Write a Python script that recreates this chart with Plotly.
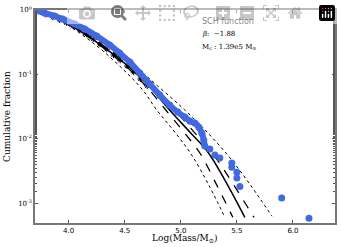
import plotly.graph_objects as go

# Observed cumulative distribution (blue)
obs_logm = [3.70, 3.786, 3.875, 3.946, 4.054, 4.143, 4.25, 4.366, 4.455, 4.545, 4.634,
            4.723, 4.812, 4.90, 4.973, 5.036, 5.08, 5.125, 5.161, 5.188, 5.205, 5.214]
obs_frac = [1.0, 0.898, 0.807, 0.724, 0.605, 0.507, 0.394, 0.286, 0.214, 0.155, 0.105,
            0.0708, 0.0478, 0.0333, 0.0259, 0.0217, 0.0188, 0.0175, 0.0151, 0.0122, 0.0095, 0.0077]
tail_logm = [5.259, 5.304, 5.348, 5.455, 5.455, 5.50, 5.50, 5.527, 5.90, 6.143]
tail_frac = [0.0069, 0.00556, 0.0050, 0.0042, 0.0036, 0.0030, 0.00245, 0.0018, 0.0012, 0.00058]

# Model realisations (black stars)
star_logm = [3.70, 3.75, 3.80, 3.86, 3.92, 3.98, 4.04, 4.10, 4.16, 4.22, 4.28, 4.34, 4.40, 4.46, 4.52, 4.58, 4.64, 4.70]
star_frac = [1.0, 0.93, 0.85, 0.77, 0.70, 0.63, 0.56, 0.49, 0.42, 0.355, 0.295, 0.245, 0.20, 0.165, 0.135, 0.108, 0.085, 0.066]

# Schechter fit (solid) and uncertainty curves
fit_logm = [3.70, 3.946, 4.25, 4.518, 4.723, 4.90, 5.08, 5.241, 5.393, 5.571]
fit_frac = [1.0, 0.674, 0.318, 0.140, 0.0635, 0.0279, 0.0127, 0.0062, 0.00227, 0.00060]
dash_lo_logm = [3.70, 3.946, 4.25, 4.518, 4.705, 4.866, 5.027, 5.17, 5.321, 5.464]
dash_lo_frac = [1.0, 0.674, 0.307, 0.130, 0.0612, 0.0279, 0.0127, 0.0060, 0.0019, 0.00060]
dash_hi_logm = [3.70, 3.946, 4.25, 4.527, 4.75, 4.946, 5.134, 5.313, 5.473, 5.652]
dash_hi_frac = [1.0, 0.698, 0.330, 0.145, 0.0635, 0.0279, 0.0118, 0.0050, 0.0019, 0.00060]
dot_lo_logm = [3.70, 3.946, 4.241, 4.491, 4.661, 4.786, 4.946, 5.098, 5.259, 5.393]
dot_lo_frac = [1.0, 0.650, 0.286, 0.117, 0.057, 0.0279, 0.0127, 0.00556, 0.00177, 0.00060]
dot_hi_logm = [3.70, 3.946, 4.259, 4.545, 4.795, 5.036, 5.259, 5.455, 5.634, 5.813]
dot_hi_frac = [1.0, 0.698, 0.341, 0.155, 0.0658, 0.0279, 0.0114, 0.00464, 0.00177, 0.000625]

x_ticks = [4.0, 4.5, 5.0, 5.5, 6.0]
x_tick_text = ["4.0", "4.5", "5.0", "5.5", "6.0"]
y_ticks = [1, 0.1, 0.01, 0.001]
y_tick_text = ["10<sup>0</sup>", "10<sup>-1</sup>", "10<sup>-2</sup>", "10<sup>-3</sup>"]

BLUE = "#4169e1"
fig = go.Figure()

for xs, ys, dash, w in [(dot_lo_logm, dot_lo_frac, "dot", 1), (dot_hi_logm, dot_hi_frac, "dot", 1),
                        (dash_lo_logm, dash_lo_frac, "dash", 1.3), (dash_hi_logm, dash_hi_frac, "dash", 1.3)]:
    fig.add_trace(go.Scatter(x=xs, y=ys, mode="lines", line=dict(color="black", width=w, dash=dash, shape="spline"),
                             showlegend=False, hoverinfo="skip"))
fig.add_trace(go.Scatter(x=fit_logm, y=fit_frac, mode="lines", line=dict(color="black", width=1.5, shape="spline"),
                         showlegend=False))
fig.add_trace(go.Scatter(x=star_logm, y=star_frac, mode="markers",
                         marker=dict(symbol="asterisk", size=5, color="black", line=dict(color="black", width=1)),
                         showlegend=False))
fig.add_trace(go.Scatter(x=obs_logm, y=obs_frac, mode="lines+markers",
                         line=dict(color=BLUE, width=6, shape="spline"),
                         marker=dict(color=BLUE, size=7), showlegend=False))
fig.add_trace(go.Scatter(x=tail_logm, y=tail_frac, mode="markers",
                         marker=dict(color=BLUE, size=7), showlegend=False))

axis_common = dict(showline=True, linecolor="#777", linewidth=1.5, mirror="ticks",
                   ticks="inside", tickcolor="#555", ticklen=3, showgrid=False, zeroline=False,
                   automargin=False)
fig.update_xaxes(range=[3.70, 6.375], tickvals=x_ticks, ticktext=x_tick_text,
                 tickfont=dict(family="DejaVu Sans", size=7, color="black"), **axis_common)
fig.update_yaxes(type="log", range=[-3.31, 0], tickvals=y_ticks, ticktext=y_tick_text,
                 tickfont=dict(family="DejaVu Serif", size=7, color="black"),
                 minor=dict(ticks="inside", ticklen=2, tickcolor="#555"), **axis_common)

fig.update_layout(
    width=341, height=247,
    margin=dict(l=35, r=6, t=10, b=24),
    plot_bgcolor="white", paper_bgcolor="white",
    annotations=[
        dict(text="Cumulative fraction", xref="paper", yref="paper", x=-0.095, y=0.5,
             textangle=-90, showarrow=False, xanchor="center", yanchor="middle",
             font=dict(family="DejaVu Serif", size=9, color="black")),
        dict(text="Log(Mass/M<sub>⊙</sub>)", xref="paper", yref="paper",
             x=0.5, y=-0.075, showarrow=False, xanchor="center", yanchor="middle",
             font=dict(family="DejaVu Serif", size=9, color="black")),
        dict(text="SCH function", xref="paper", yref="paper", x=0.55, y=0.975,
             showarrow=False, xanchor="left", yanchor="top",
             font=dict(family="DejaVu Sans", size=8, color="black")),
        dict(text="<i>β</i>:  −1.88", xref="paper", yref="paper", x=0.55, y=0.915,
             showarrow=False, xanchor="left", yanchor="top",
             font=dict(family="DejaVu Serif", size=7, color="black")),
        dict(text="M<sub>c</sub> : 1.39e5 M<sub>⊙</sub>", xref="paper", yref="paper", x=0.55, y=0.855,
             showarrow=False, xanchor="left", yanchor="top",
             font=dict(family="DejaVu Serif", size=7, color="black")),
    ],
)

fig.write_html("out.html", post_script="document.body.style.margin='0';")
